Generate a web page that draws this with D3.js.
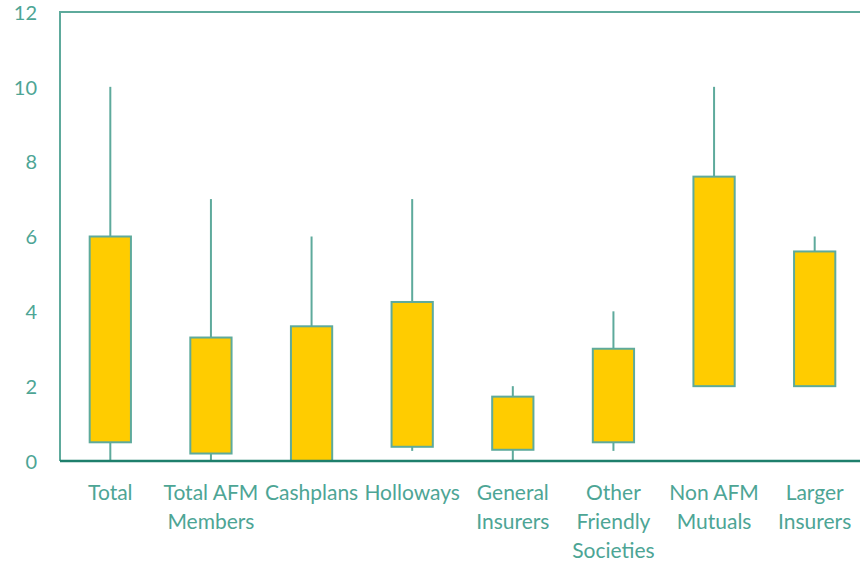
<!DOCTYPE html>
<html><head><meta charset="utf-8">
<script src="https://cdn.jsdelivr.net/npm/d3@7"></script>
<style>body{margin:0;background:#fff}svg{display:block}</style>
</head><body>
<svg id="c" width="860" height="562"></svg>
<script>
const categories = [["Total"],["Total AFM","Members"],["Cashplans"],["Holloways"],["General","Insurers"],["Other","Friendly","Societies"],["Non AFM","Mutuals"],["Larger","Insurers"]];
const lowValues   = [0, 0, 0, 0.27, 0, 0.27, 2, 2];
const boxLow      = [0.5, 0.2, 0, 0.38, 0.3, 0.5, 2, 2];
const boxHigh     = [6.0, 3.3, 3.6, 4.25, 1.72, 3.0, 7.6, 5.6];
const highValues  = [10, 7, 6, 7, 2, 4, 10, 6];
const yTicks = [0,2,4,6,8,10,12];

(function(){
const svg = d3.select("#c");
const pLeft = 60, pRight = 865, pTop = 12, pBottom = 461;
const x = d3.scaleBand().domain(d3.range(categories.length)).range([pLeft, pRight]).paddingInner(0.59).paddingOuter(0.295);
const y = d3.scaleLinear().domain([0,12]).range([pBottom, pTop]);
const font = "Lato, 'Open Sans', sans-serif";
const txt = "#4da595", frame = "#5eaa9c", axisC = "#1e7f6c";

svg.append("path").attr("d", `M${pLeft},${pBottom}V${pTop}H${pRight}`).attr("fill","none").attr("stroke",frame).attr("stroke-width",2);

const ya = svg.append("g").attr("transform",`translate(${pLeft},0)`).call(d3.axisLeft(y).tickValues(yTicks).tickSize(0).tickPadding(23));
ya.select(".domain").remove();
ya.selectAll("text").attr("fill",txt).style("font-family",font).style("font-size","20px").attr("dy","0.36em");

const bw = x.bandwidth(), cx = i => x(i) + bw/2;
const g = svg.append("g");
categories.forEach((c,i)=>{
  g.append("line").attr("x1",cx(i)).attr("x2",cx(i)).attr("y1",y(highValues[i])).attr("y2",y(boxHigh[i])).attr("stroke",frame).attr("stroke-width",2);
  g.append("line").attr("x1",cx(i)).attr("x2",cx(i)).attr("y1",y(boxLow[i])).attr("y2",y(lowValues[i])).attr("stroke",frame).attr("stroke-width",2);
  g.append("rect").attr("x",x(i)).attr("width",bw).attr("y",y(boxHigh[i])).attr("height",y(boxLow[i])-y(boxHigh[i]))
    .attr("fill","#ffcc00").attr("stroke",frame).attr("stroke-width",2);
});

svg.append("line").attr("x1",pLeft).attr("x2",pRight).attr("y1",pBottom).attr("y2",pBottom).attr("stroke",axisC).attr("stroke-width",2.5);
const xa = svg.append("g").attr("transform",`translate(0,${pBottom})`).call(d3.axisBottom(x).tickSize(0).tickFormat(()=>""));
xa.select(".domain").remove();
xa.selectAll(".tick").each(function(d){
  const t = d3.select(this).select("text").attr("fill",txt).style("font-family",font).style("font-size","21px").attr("y",39).attr("dy",0);
  categories[d].forEach((line,k)=>t.append("tspan").attr("x",0).attr("dy",k===0?0:"29px").text(line));
});
})();
</script>
</body></html>
